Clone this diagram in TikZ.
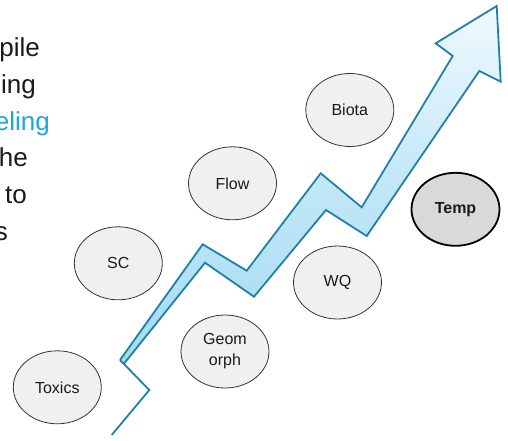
\documentclass[tikz,border=0pt]{standalone}
\usepackage{fontspec}
\setmainfont{Liberation Sans}
\usetikzlibrary{shapes.geometric}
\definecolor{ink}{HTML}{1A1A1A}
\definecolor{skyblue}{HTML}{1BA6E1}
\definecolor{arrowline}{HTML}{2180A8}
\definecolor{arrowlow}{HTML}{A3DBF2}
\definecolor{arrowhigh}{HTML}{F0F9FE}
\definecolor{bubble}{HTML}{F0F0F0}
\definecolor{bubbledark}{HTML}{D9D9D9}

\tikzset{
  factor/.style={ellipse,draw=black!80,fill=bubble,line width=.8pt,
    minimum width=88pt,minimum height=73pt,inner sep=0pt,align=center,
    text=ink,font=\fontsize{16}{21}\selectfont},
  keyfactor/.style={factor,draw=black,fill=bubbledark,line width=1.8pt,
    font=\fontsize{16}{21}\selectfont\bfseries},
  sidetext/.style={anchor=base east,inner sep=0pt,text=ink,
    font=\fontsize{26}{30}\selectfont}
}

\begin{document}
\begin{tikzpicture}[x=1pt,y=-1pt]
\useasboundingbox (0,0) rectangle (508,441);
\clip (0,0) rectangle (508,441);
% text cut off at the left edge
\node[sidetext] (l1) at (40,56.5) {pile};
\node[sidetext] (l2) at (36,93.2) {ing};
\node[sidetext,text=skyblue] (l3) at (50,130) {eling};
\node[sidetext] (l4) at (28,166.7) {he};
\node[sidetext] (l5) at (27,203.3) {to};
\node[sidetext] (l6) at (8,240) {s};
% rising arrow
\coordinate (tail) at (120,360);
\shade[top color=arrowhigh,bottom color=arrowlow,middle color=arrowlow!60!arrowhigh]
  (tail) -- (202.7,244.3) -- (246.7,270.7) -- (320.7,173.3) -- (361.7,207.3)
  -- (452.7,56) -- (435.7,43.3) -- (496.7,6) -- (500.7,81.7) -- (479.3,71)
  -- (366.7,236) -- (326,210) -- (254,296.7) -- (205,262.7) -- (123.8,363.9) -- cycle;
\draw[arrowline,line width=1.8pt,line join=miter]
  (tail) -- (202.7,244.3) -- (246.7,270.7) -- (320.7,173.3) -- (361.7,207.3)
  -- (452.7,56) -- (435.7,43.3) -- (496.7,6) -- (500.7,81.7) -- (479.3,71)
  -- (366.7,236) -- (326,210) -- (254,296.7) -- (205,262.7) -- (123.8,363.9);
\draw[arrowline,line width=1.8pt,line join=miter]
  (tail) -- (149.3,390) -- (111.7,435);
% factors
\node[factor] (toxics) at (57.3,387.3) {Toxics};
\node[factor] (sc) at (118.3,263.3) {SC};
\node[factor] (geomorph) at (225,351.5) {Geom\\orph};
\node[factor] (flow) at (232.5,183.3) {Flow};
\node[factor] (biota) at (349.8,110) {Biota};
\node[factor] (wq) at (337.5,282.5) {WQ};
\node[keyfactor] (temp) at (455.5,209.3) {Temp};
\end{tikzpicture}
\end{document}
